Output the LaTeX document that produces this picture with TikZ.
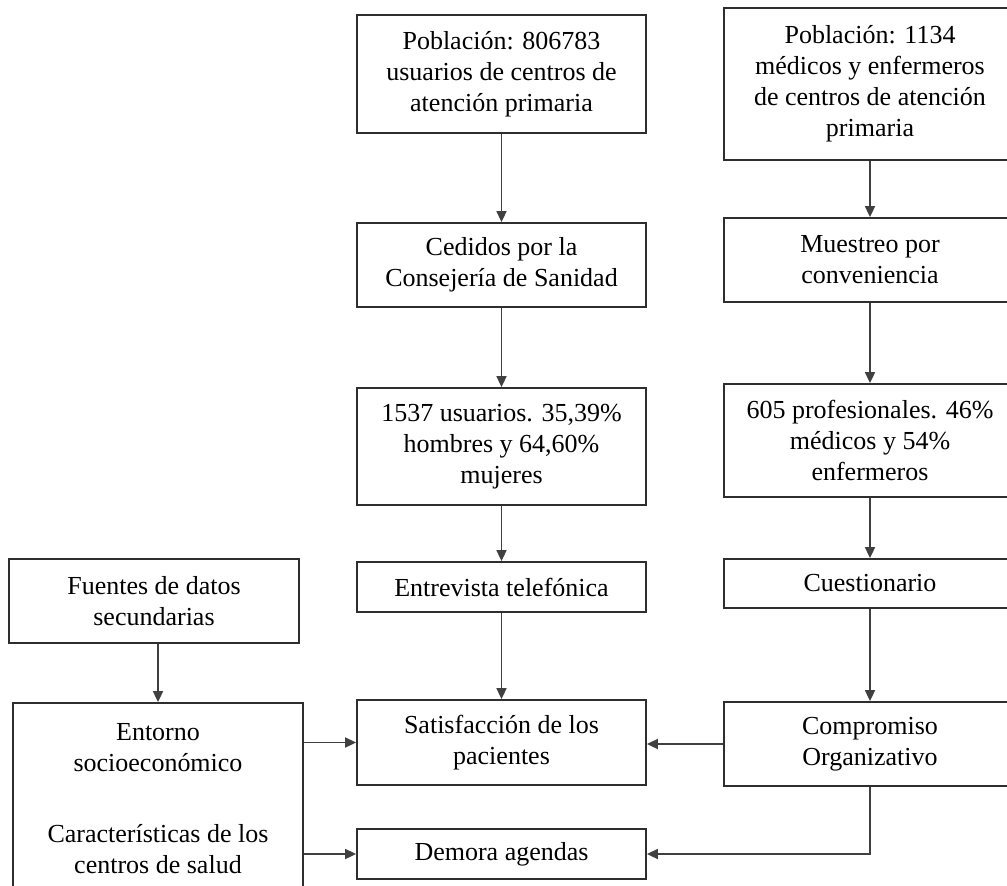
\documentclass[tikz,border=0pt]{standalone}
\usepackage{fontspec}
\setmainfont{Liberation Serif}
\usepackage{tikz}
\usetikzlibrary{arrows.meta}
\usetikzlibrary{positioning}

\begin{document}
\begin{tikzpicture}[x=0.5pt, y=-0.5pt,
    caja/.style={draw=black!82, line width=0.9pt, align=center, inner sep=0pt,
        font=\fontsize{13}{15.5}\selectfont},
    flecha/.style={draw=black!75, line width=0.85pt, -{Triangle[length=5.5pt, width=5pt]}}]

\useasboundingbox (0,0) rectangle (1007,885);

% columna de pacientes
\node[caja, minimum width=144.5pt, minimum height=59pt] (pobU) at (501.5, 74) {Población: 806783\\usuarios de centros de\\atención primaria};
\node[caja, minimum width=144.5pt, minimum height=42pt] (cedidos) at (501.5, 265) {Cedidos por la\\Consejería de Sanidad};
\node[caja, minimum width=144.5pt, minimum height=58.5pt] (usuarios) at (501.5, 446.5) {1537 usuarios. 35,39\%\\hombres y 64,60\%\\mujeres};
\node[caja, minimum width=144.5pt, minimum height=25pt] (entrevista) at (501.5, 587) {Entrevista telefónica};
\node[caja, minimum width=144.5pt, minimum height=42.5pt] (satisf) at (501.5, 742.5) {Satisfacción de los\\pacientes};
\node[caja, minimum width=144.5pt, minimum height=25pt] (demora) at (501.5, 854) {Demora agendas};

% columna de profesionales
\node[caja, minimum width=146pt, minimum height=76pt] (pobM) at (870, 84) {Población: 1134\\médicos y enfermeros\\de centros de atención\\primaria};
\node[caja, minimum width=146pt, minimum height=42pt] (muestreo) at (870, 260) {Muestreo por\\conveniencia};
\node[caja, minimum width=146pt, minimum height=56.5pt] (profes) at (870, 440.5) {605 profesionales. 46\%\\médicos y 54\%\\enfermeros};
\node[caja, minimum width=146pt, minimum height=24.5pt] (cuest) at (870, 583.5) {Cuestionario};
\node[caja, minimum width=146pt, minimum height=42pt] (compr) at (870, 744) {Compromiso\\Organizativo};

% fuentes secundarias
\node[caja, minimum width=145pt, minimum height=42pt] (fuentes) at (154, 601) {Fuentes de datos\\secundarias};
\node[caja, minimum width=145pt, minimum height=96pt] (entorno) at (158, 799) {Entorno\\socioeconómico\\[20pt]Características de los\\centros de salud};

\draw[flecha] (pobU) -- (cedidos);
\draw[flecha] (cedidos) -- (usuarios);
\draw[flecha] (usuarios) -- (entrevista);
\draw[flecha] (entrevista) -- (satisf);

\draw[flecha] (pobM) -- (muestreo);
\draw[flecha] (muestreo) -- (profes);
\draw[flecha] (profes) -- (cuest);
\draw[flecha] (cuest) -- (compr);

\draw[flecha] (fuentes.south -| entorno.north) -- (entorno.north);
\draw[flecha] (entorno.east |- satisf) -- (satisf.west);
\draw[flecha] (entorno.east |- demora) -- (demora.west);
\draw[flecha] (compr.west) -- (compr.west -| satisf.east);
\draw[flecha] (compr.south) |- (demora.east);

\end{tikzpicture}
\end{document}
